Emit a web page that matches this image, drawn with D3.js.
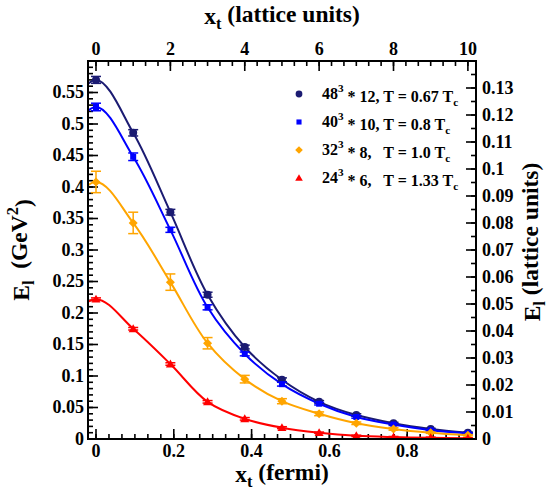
<!DOCTYPE html>
<html>
<head>
<meta charset="utf-8">
<script src="https://cdn.jsdelivr.net/npm/d3@7/dist/d3.min.js"></script>
<style>
  html, body { margin: 0; padding: 0; background: #fff; }
  svg { display: block; }
</style>
</head>
<body>
<svg id="chart" width="548" height="490"></svg>
<script>
// Separation along t, in lattice units (same spacing for every lattice)
const xLattice = [0, 1, 2, 3, 4, 5, 6, 7, 8, 9, 10];
// Lattice spacing in fermi
const latticeSpacing = 0.0956;

// E_l in GeV^2 for each lattice
const e48 = [0.570, 0.486, 0.360, 0.229, 0.146, 0.094, 0.059, 0.038, 0.025, 0.016, 0.010];
const e40 = [0.527, 0.448, 0.332, 0.209, 0.135, 0.087, 0.056, 0.035, 0.023, 0.014, 0.009];
const e32 = [0.408, 0.343, 0.249, 0.152, 0.095, 0.060, 0.040, 0.025, 0.016, 0.010, 0.006];
const e24 = [0.222, 0.175, 0.119, 0.059, 0.032, 0.018, 0.010, 0.005, 0.003, 0.002, 0.001];

// Statistical errors (GeV^2)
const err48 = [0.0055, 0.005, 0.0045, 0.004, 0.003, 0.003, 0.002, 0.002, 0.0015, 0.001, 0.001];
const err40 = [0.006, 0.006, 0.004, 0.004, 0.003, 0.003, 0.002, 0.002, 0.0015, 0.001, 0.001];
const err32 = [0.017, 0.017, 0.013, 0.009, 0.006, 0.004, 0.003, 0.002, 0.002, 0.001, 0.001];
const err24 = [0.002, 0.002, 0.002, 0.002, 0.002, 0.0015, 0.001, 0.001, 0.001, 0.001, 0.001];

// Tick values
const fermiTicks = [0, 0.2, 0.4, 0.6, 0.8];
const latticeTicks = [0, 2, 4, 6, 8, 10];
const gevTicks = [0, 0.05, 0.1, 0.15, 0.2, 0.25, 0.3, 0.35, 0.4, 0.45, 0.5, 0.55];
const latticeETicks = [0, 0.01, 0.02, 0.03, 0.04, 0.05, 0.06, 0.07, 0.08, 0.09, 0.1, 0.11, 0.12, 0.13];

const seriesList = [
  { name: "48", nt: "12", temp: "0.67", values: e48, errors: err48, color: "#1b1b72", symbol: "circle", sep: " " },
  { name: "40", nt: "10", temp: "0.8",  values: e40, errors: err40, color: "#0000ff", symbol: "square", sep: " " },
  { name: "32", nt: "8",  temp: "1.0",  values: e32, errors: err32, color: "#ffa500", symbol: "diamond", sep: "   " },
  { name: "24", nt: "6",  temp: "1.33", values: e24, errors: err24, color: "#ff0000", symbol: "triangle", sep: "   " }
];

const svg = d3.select("#chart");
const L = 88, R = 476, T = 61, B = 439;

const xFermi = d3.scaleLinear().domain([-8 / 389, 380 / 389]).range([L, R]);
const xLat = d3.scaleLinear()
  .domain(xFermi.domain().map(d => d / latticeSpacing)).range([L, R]);
const yGeV = d3.scaleLinear().domain([0, 0.6]).range([B, T]);
const yLat = d3.scaleLinear().domain([0, 0.14]).range([B, T]);

const fmt = d3.format("~g");

function range(a, b, step) {
  const out = [];
  for (let v = a; v <= b + step * 1e-6; v += step) out.push(+v.toFixed(6));
  return out;
}

// Axes with inward ticks
const axisG = svg.append("g").attr("stroke", "#000").attr("stroke-width", 1.6);

function vTicks(vals, scale, x0, dir, len) {
  vals.forEach(v => {
    const y = scale(v);
    if (y < T - 0.5 || y > B + 0.5) return;
    axisG.append("line").attr("x1", x0).attr("x2", x0 + dir * len).attr("y1", y).attr("y2", y);
  });
}
function hTicks(vals, scale, y0, dir, len) {
  vals.forEach(v => {
    const x = scale(v);
    if (x < L - 0.5 || x > R + 0.5) return;
    axisG.append("line").attr("y1", y0).attr("y2", y0 + dir * len).attr("x1", x).attr("x2", x);
  });
}

// Left GeV axis
vTicks(range(0, 0.6, 0.01), yGeV, L, 1, 5);
vTicks(gevTicks, yGeV, L, 1, 10);
// Right lattice axis
vTicks(range(0, 0.14, 0.005), yLat, R, -1, 5);
vTicks(latticeETicks, yLat, R, -1, 10);
// Bottom fermi axis
hTicks(range(0, 0.96, 0.2 / 6), xFermi, B, -1, 5);
hTicks(fermiTicks, xFermi, B, -1, 10);
// Top lattice axis
hTicks(range(0, 10.1, 1 / 3), xLat, T, 1, 5);
hTicks(latticeTicks, xLat, T, 1, 10);

// Tick labels
const labelSize = 18;
svg.append("g").selectAll("text").data(gevTicks).join("text")
  .attr("x", 84).attr("y", d => yGeV(d)).attr("dy", "0.33em")
  .attr("text-anchor", "end").attr("font-size", labelSize).text(d => fmt(d));
svg.append("g").selectAll("text").data(latticeETicks).join("text")
  .attr("x", 482).attr("y", d => yLat(d)).attr("dy", "0.33em")
  .attr("text-anchor", "start").attr("font-size", labelSize).text(d => fmt(d));
svg.append("g").selectAll("text").data(fermiTicks).join("text")
  .attr("x", d => xFermi(d)).attr("y", 457)
  .attr("text-anchor", "middle").attr("font-size", labelSize).text(d => fmt(d));
svg.append("g").selectAll("text").data(latticeTicks).join("text")
  .attr("x", d => xLat(d)).attr("y", 55)
  .attr("text-anchor", "middle").attr("font-size", labelSize).text(d => fmt(d));

// Axis titles
const titleSize = 23.5;
function title(g, main, sub, rest, sup, tail) {
  const t = g.append("text").attr("font-size", titleSize).attr("text-anchor", "middle")
    .attr("xml:space", "preserve").style("white-space", "pre");
  t.append("tspan").text(main);
  t.append("tspan").attr("font-size", titleSize * 0.7).attr("dy", "0.3em").text(sub);
  t.append("tspan").attr("dy", "-0.3em").text(rest);
  if (sup) {
    t.append("tspan").attr("font-size", titleSize * 0.7).attr("dy", "-0.55em").text(sup);
    t.append("tspan").attr("dy", "0.55em").text(tail);
  }
  return t;
}
title(svg.append("g").attr("transform", `translate(${(L + R) / 2},482)`), "x", "t", " (fermi)");
title(svg.append("g").attr("transform", `translate(${(L + R) / 2},24)`), "x", "t", " (lattice units)");
title(svg.append("g").attr("transform", `translate(29,${(T + B) / 2}) rotate(-90)`), "E", "l", "  (GeV", "2", ")");
title(svg.append("g").attr("transform", `translate(540,242) rotate(-90)`), "E", "l", " (lattice units)");

// Plot area clip
svg.append("clipPath").attr("id", "plotClip").append("rect")
  .attr("x", L).attr("y", T).attr("width", R - L).attr("height", B - T);

// Smooth curves: the correlator is even in x_t, so reflect about 0 for a flat start
const line = d3.line()
  .x(d => xLat(d[0])).y(d => yGeV(d[1]))
  .curve(d3.curveCatmullRom.alpha(0.5));

const plot = svg.append("g").attr("clip-path", "url(#plotClip)");

seriesList.forEach(s => {
  const pts = xLattice.map((x, i) => [x, s.values[i]]);
  const mirrored = [[-2, s.values[2]], [-1, s.values[1]], ...pts];
  plot.append("path")
    .attr("d", line(mirrored))
    .attr("fill", "none").attr("stroke", s.color).attr("stroke-width", 2);
});

function drawSymbol(g, type, cx, cy, color, scale) {
  const k = scale || 1;
  if (type === "circle") {
    g.append("circle").attr("cx", cx).attr("cy", cy).attr("r", 4 * k).attr("fill", color);
  } else if (type === "square") {
    const h = 3 * k;
    g.append("rect").attr("x", cx - h).attr("y", cy - h).attr("width", 2 * h).attr("height", 2 * h).attr("fill", color);
  } else if (type === "diamond") {
    const h = 4.5 * k;
    g.append("path").attr("d", `M${cx},${cy - h}L${cx + h},${cy}L${cx},${cy + h}L${cx - h},${cy}Z`).attr("fill", color);
  } else {
    const h = 4.5 * k;
    g.append("path").attr("d", `M${cx},${cy - h}L${cx + h},${cy + h * 0.75}L${cx - h},${cy + h * 0.75}Z`).attr("fill", color);
  }
}

// Error bars and markers
seriesList.forEach(s => {
  const g = plot.append("g");
  xLattice.forEach((x, i) => {
    const cx = xLat(x);
    const y1 = yGeV(s.values[i] + s.errors[i]);
    const y2 = yGeV(s.values[i] - s.errors[i]);
    g.append("line").attr("x1", cx).attr("x2", cx).attr("y1", y1).attr("y2", y2)
      .attr("stroke", s.color).attr("stroke-width", 1.5);
    [y1, y2].forEach(y => g.append("line").attr("x1", cx - 5).attr("x2", cx + 5)
      .attr("y1", y).attr("y2", y).attr("stroke", s.color).attr("stroke-width", 1.5));
    drawSymbol(g, s.symbol, cx, yGeV(s.values[i]), s.color);
  });
});

// Frame
svg.append("rect").attr("x", L).attr("y", T).attr("width", R - L).attr("height", B - T)
  .attr("fill", "none").attr("stroke", "#000").attr("stroke-width", 2);

// Legend
const legend = svg.append("g");
const legSize = 16;
seriesList.forEach((s, i) => {
  const y = 94 + i * 28;
  drawSymbol(legend, s.symbol, 299, y, s.color, 0.85);
  const t = legend.append("text").attr("x", 322).attr("y", y + 5)
    .attr("font-size", legSize).attr("xml:space", "preserve").style("white-space", "pre");
  t.append("tspan").text(s.name);
  t.append("tspan").attr("font-size", legSize * 0.7).attr("dy", "-0.6em").text("3");
  t.append("tspan").attr("dy", "0.6em").text(` * ${s.nt},${s.sep}T = ${s.temp} T`);
  t.append("tspan").attr("font-size", legSize * 0.7).attr("dy", "0.35em").text("c");
});

// Serif bold type for every label
svg.selectAll("text")
  .style("font-family", '"Liberation Serif"')
  .style("font-weight", "bold")
  .style("fill", "#000");
</script>
</body>
</html>
